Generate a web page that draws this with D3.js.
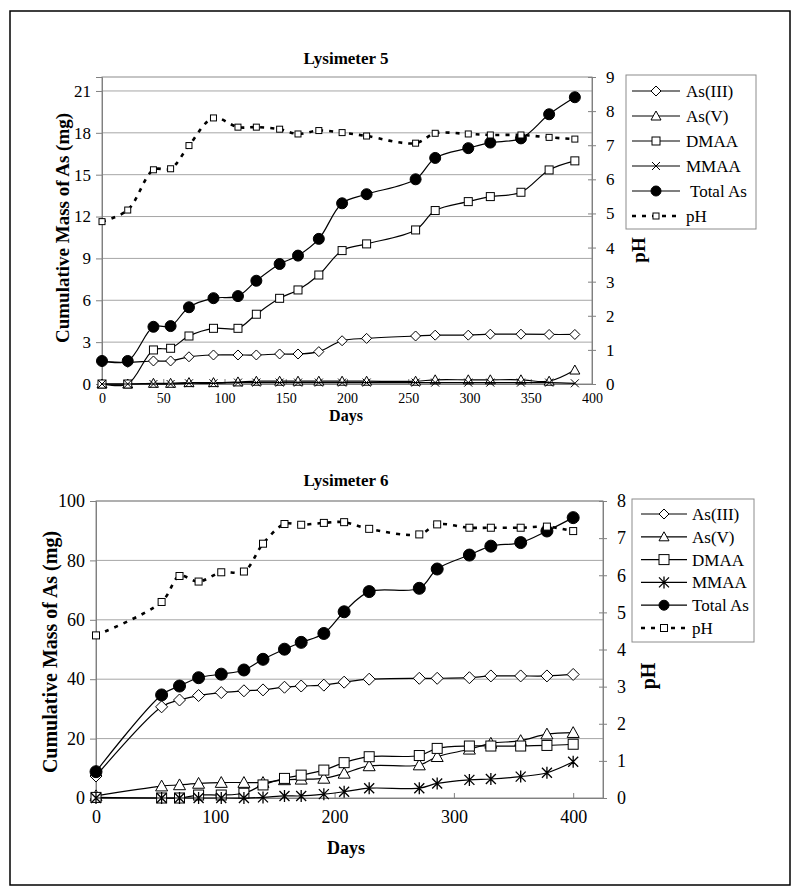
<!DOCTYPE html>
<html><head><meta charset="utf-8">
<script src="https://cdn.jsdelivr.net/npm/d3@7"></script>
<style>body{margin:0;background:#fff}svg{display:block}text{font-family:"Liberation Serif","Times New Roman",serif;fill:#000}</style>
</head><body>
<svg id="c" width="800" height="895"></svg>
<script>
// ---------- Lysimeter 5 data ----------
const days5 = [0, 21, 42, 56, 71, 91, 111, 126, 145, 160, 177, 196, 216, 256, 272, 299, 317, 342, 365, 386];
const asIII5 = [1.6, 1.55, 1.65, 1.65, 1.95, 2.08, 2.08, 2.08, 2.15, 2.15, 2.32, 3.1, 3.27, 3.44, 3.5, 3.5, 3.57, 3.57, 3.55, 3.55];
const asV5 = [0, 0, 0.05, 0.05, 0.1, 0.1, 0.15, 0.2, 0.2, 0.2, 0.2, 0.2, 0.2, 0.2, 0.3, 0.3, 0.3, 0.3, 0.2, 1.0];
const dmaa5 = [0, 0, 2.44, 2.56, 3.44, 3.99, 3.99, 5.0, 6.14, 6.74, 7.81, 9.56, 10.04, 11.04, 12.43, 13.07, 13.43, 13.74, 15.34, 15.99];
const mmaa5 = [0, 0, 0, 0, 0.05, 0.05, 0.1, 0.1, 0.1, 0.1, 0.1, 0.1, 0.1, 0.1, 0.1, 0.1, 0.1, 0.1, 0.1, 0.05];
const total5 = [1.65, 1.65, 4.1, 4.15, 5.5, 6.15, 6.3, 7.4, 8.6, 9.2, 10.4, 12.95, 13.6, 14.67, 16.2, 16.9, 17.3, 17.6, 19.33, 20.55];
const ph5 = [4.76, 5.1, 6.28, 6.31, 6.99, 7.8, 7.53, 7.53, 7.47, 7.33, 7.43, 7.37, 7.27, 7.06, 7.35, 7.33, 7.3, 7.3, 7.23, 7.18];
const xTicks5 = [0, 50, 100, 150, 200, 250, 300, 350, 400];
const yTicks5 = [0, 3, 6, 9, 12, 15, 18, 21];
const rTicks5 = [0, 1, 2, 3, 4, 5, 6, 7, 8, 9];

// ---------- Lysimeter 6 data ----------
const days6 = [0, 55, 70, 86, 105, 124, 140, 158, 172, 191, 208, 229, 271, 286, 313, 331, 356, 378, 400];
const asIII6 = [7.4, 30.7, 33.0, 34.5, 35.5, 36.1, 36.4, 37.3, 37.7, 38.0, 39.0, 40.0, 40.3, 40.3, 40.5, 41.1, 41.1, 41.1, 41.6];
const asV6 = [0.7, 4.0, 4.4, 4.9, 5.2, 5.2, 5.2, 6.1, 6.3, 6.6, 8.3, 10.8, 11.1, 13.9, 16.4, 18.4, 19.3, 21.5, 22.0];
const dmaa6 = [0.2, 0, 0, 1.0, 1.0, 1.6, 4.4, 6.6, 7.7, 9.4, 11.9, 13.9, 14.3, 16.7, 17.5, 17.5, 17.5, 17.7, 18.1];
const mmaa6 = [0, 0, 0, 0, 0, 0, 0.2, 0.7, 0.7, 1.3, 2.1, 3.3, 3.3, 4.9, 6.1, 6.4, 7.2, 8.5, 12.2];
const total6 = [8.86, 34.7, 37.7, 40.5, 41.7, 43.1, 46.7, 50.1, 52.4, 55.4, 62.7, 69.5, 70.6, 77.1, 81.8, 84.8, 86.0, 89.9, 94.4];
const ph6 = [4.38, 5.28, 5.98, 5.83, 6.08, 6.1, 6.85, 7.38, 7.36, 7.41, 7.43, 7.25, 7.1, 7.37, 7.28, 7.28, 7.28, 7.31, 7.19];
const xTicks6 = [0, 100, 200, 300, 400];
const yTicks6 = [0, 20, 40, 60, 80, 100];
const rTicks6 = [0, 1, 2, 3, 4, 5, 6, 7, 8];

const seriesNames5 = ["As(III)", "As(V)", "DMAA", "MMAA", " Total As", "pH"];
const seriesNames6 = ["As(III)", "As(V)", "DMAA", "MMAA", "Total As", "pH"];

const FONT = "Liberation Serif";
const svg = d3.select("#c");
svg.append("rect").attr("x", 10).attr("y", 11).attr("width", 780).attr("height", 874)
  .attr("fill", "none").attr("stroke", "#000").attr("stroke-width", 1.5);

function marker(g, type, x, y, s) {
  const st = {stroke: "#000", "stroke-width": 1, fill: "#fff"};
  let el;
  if (type === "diamond") {
    el = g.append("path").attr("d", `M${x},${y - s}L${x + s},${y}L${x},${y + s}L${x - s},${y}Z`);
  } else if (type === "triangle") {
    el = g.append("path").attr("d", `M${x},${y - s}L${x + s},${y + s * 0.8}L${x - s},${y + s * 0.8}Z`);
  } else if (type === "square") {
    el = g.append("rect").attr("x", x - s).attr("y", y - s).attr("width", 2 * s).attr("height", 2 * s);
  } else if (type === "x") {
    el = g.append("path").attr("d", `M${x - s},${y - s}L${x + s},${y + s}M${x - s},${y + s}L${x + s},${y - s}`);
    st.fill = "none";
  } else if (type === "star") {
    el = g.append("path").attr("d", `M${x - s},${y - s}L${x + s},${y + s}M${x - s},${y + s}L${x + s},${y - s}M${x},${y - s * 1.2}L${x},${y + s * 1.2}`);
    st.fill = "none"; st["stroke-width"] = 1.3;
  } else if (type === "circle") {
    el = g.append("circle").attr("cx", x).attr("cy", y).attr("r", s);
    st.fill = "#000";
  }
  for (const k in st) el.attr(k, st[k]);
}

function drawChart(cfg) {
  const g = svg.append("g");
  const x = d3.scaleLinear().domain(cfg.xDom).range([cfg.left, cfg.right]);
  const yL = d3.scaleLinear().domain(cfg.yDom).range([cfg.bottom, cfg.top]);
  const yR = d3.scaleLinear().domain(cfg.rDom).range([cfg.bottom, cfg.top]);
  const grid = "#a6a6a6";

  // gridlines
  g.append("g").selectAll("line").data(cfg.yTicks.filter(d => d > 0)).join("line")
    .attr("x1", cfg.left).attr("x2", cfg.right).attr("y1", d => yL(d)).attr("y2", d => yL(d))
    .attr("stroke", grid).attr("stroke-width", 1);
  // plot frame
  g.append("rect").attr("x", cfg.left).attr("y", cfg.top).attr("width", cfg.right - cfg.left)
    .attr("height", cfg.bottom - cfg.top).attr("fill", "none").attr("stroke", "#8c8c8c").attr("stroke-width", 1);

  // left axis
  const ax = g.append("g").attr("transform", `translate(${cfg.left},0)`)
    .call(d3.axisLeft(yL).tickValues(cfg.yTicks).tickSize(6).tickPadding(5))
    .attr("font-family", FONT).attr("font-size", cfg.yFont);
  ax.select(".domain").attr("stroke", "#808080");
  ax.selectAll(".tick line").attr("stroke", "#808080");
  ax.selectAll("text").style("font-family", FONT);
  // right axis
  const ar = g.append("g").attr("transform", `translate(${cfg.right},0)`)
    .call(d3.axisRight(yR).tickValues(cfg.rTicks).tickSizeInner(4).tickSizeOuter(0).tickPadding(10))
    .attr("font-family", FONT).attr("font-size", cfg.rFont);
  ar.select(".domain").attr("stroke", "#808080");
  ar.selectAll(".tick line").attr("stroke", "#808080").attr("x1", -4);
  ar.selectAll("text").style("font-family", FONT);
  // bottom axis
  const ab = g.append("g").attr("transform", `translate(0,${cfg.bottom})`)
    .call(d3.axisBottom(x).tickValues(cfg.xTicks).tickSizeInner(-5).tickSizeOuter(0).tickPadding(cfg.xPad))
    .attr("font-family", FONT).attr("font-size", cfg.xFont);
  ab.select(".domain").attr("stroke", "#808080");
  ab.selectAll(".tick line").attr("stroke", "#808080");
  ab.selectAll("text").style("font-family", FONT);

  // titles
  g.append("text").attr("x", cfg.titleX).attr("y", cfg.titleY).attr("text-anchor", "middle")
    .attr("font-size", cfg.titleFont).attr("font-weight", "bold").text(cfg.title);
  g.append("text").attr("x", cfg.titleX).attr("y", cfg.daysY).attr("text-anchor", "middle")
    .attr("font-size", cfg.daysFont).attr("font-weight", "bold").text("Days");
  g.append("text").attr("transform", `translate(${cfg.yLabX},${cfg.yLabY}) rotate(-90)`).attr("text-anchor", "middle")
    .attr("font-size", cfg.yLabFont).attr("font-weight", "bold").text("Cumulative Mass of As (mg)");
  g.append("text").attr("transform", `translate(${cfg.pHX},${cfg.pHY}) rotate(-90)`).attr("text-anchor", "middle")
    .attr("font-size", cfg.pHFont).attr("font-weight", "bold").text("pH");

  const curve = d3.curveCatmullRom.alpha(0.5);
  const series = [
    {vals: cfg.asIII, m: "diamond", s: cfg.ms.diamond, axis: yL},
    {vals: cfg.asV, m: "triangle", s: cfg.ms.triangle, axis: yL},
    {vals: cfg.dmaa, m: "square", s: cfg.ms.square, axis: yL},
    {vals: cfg.mmaa, m: cfg.mmaaMarker, s: cfg.ms.x, axis: yL},
    {vals: cfg.total, m: "circle", s: cfg.ms.circle, axis: yL},
    {vals: cfg.ph, m: "square", s: cfg.ms.ph, axis: yR, dash: true}
  ];
  series.forEach(sr => {
    const pts = cfg.days.map((d, i) => [x(d), sr.axis(sr.vals[i])]);
    const line = d3.line().curve(curve);
    const p = g.append("path").attr("d", line(pts)).attr("fill", "none").attr("stroke", "#000");
    if (sr.dash) p.attr("stroke-width", 2.6).attr("stroke-dasharray", "4,6");
    else p.attr("stroke-width", 1.2);
    const mg = g.append("g");
    pts.forEach(pt => marker(mg, sr.m, pt[0], pt[1], sr.s));
  });

  // legend
  const L = cfg.legend;
  g.append("rect").attr("x", L.x).attr("y", L.y).attr("width", L.w).attr("height", L.h)
    .attr("fill", "#fff").attr("stroke", "#8c8c8c").attr("stroke-width", 1);
  series.forEach((sr, i) => {
    const yy = L.y0 + i * L.dy;
    const l = g.append("line").attr("x1", L.lx1).attr("x2", L.lx2).attr("y1", yy).attr("y2", yy).attr("stroke", "#000");
    if (sr.dash) l.attr("stroke-width", 2.6).attr("stroke-dasharray", "4,6").attr("stroke-dashoffset", 0);
    else l.attr("stroke-width", 1.2);
    const lm = g.append("g");
    marker(lm, sr.m, (L.lx1 + L.lx2) / 2, yy, sr.dash ? cfg.ms.ph : Math.min(sr.s, 5));
    g.append("text").attr("x", L.tx).attr("y", yy).attr("dy", "0.35em").attr("font-size", L.font)
      .attr("xml:space", "preserve").text(cfg.names[i]);
  });
}

drawChart({
  title: "Lysimeter 5", titleX: 346, titleY: 64, titleFont: 17, daysY: 421, daysFont: 16,
  left: 102, right: 592, top: 77, bottom: 384,
  xDom: [0, 400], yDom: [0, 22], rDom: [0, 9],
  xTicks: xTicks5, yTicks: yTicks5, rTicks: rTicks5,
  yFont: 17, rFont: 17, xFont: 14, xPad: 9,
  yLabX: 69, yLabY: 228, yLabFont: 19, pHX: 645, pHY: 250, pHFont: 19,
  days: days5, asIII: asIII5, asV: asV5, dmaa: dmaa5, mmaa: mmaa5, total: total5, ph: ph5,
  mmaaMarker: "x", names: seriesNames5,
  ms: {diamond: 5, triangle: 5, square: 4, x: 4, circle: 5.5, ph: 3},
  legend: {x: 626, y: 75, w: 130, h: 154, y0: 91, dy: 25, lx1: 632, lx2: 680, tx: 686, font: 17}
});

drawChart({
  title: "Lysimeter 6", titleX: 346, titleY: 486, titleFont: 17, daysY: 854, daysFont: 18,
  left: 96, right: 603, top: 501, bottom: 798,
  xDom: [0, 425], yDom: [0, 100], rDom: [0, 8],
  xTicks: xTicks6, yTicks: yTicks6, rTicks: rTicks6,
  yFont: 18, rFont: 18, xFont: 18, xPad: 12,
  yLabX: 57, yLabY: 652, yLabFont: 20, pHX: 655, pHY: 676, pHFont: 20,
  days: days6, asIII: asIII6, asV: asV6, dmaa: dmaa6, mmaa: mmaa6, total: total6, ph: ph6,
  mmaaMarker: "star", names: seriesNames6,
  ms: {diamond: 6, triangle: 6, square: 5, x: 5, circle: 6, ph: 3.5},
  legend: {x: 632, y: 499, w: 122, h: 143, y0: 514, dy: 22.8, lx1: 641, lx2: 687, tx: 692, font: 17}
});
</script>
</body></html>
